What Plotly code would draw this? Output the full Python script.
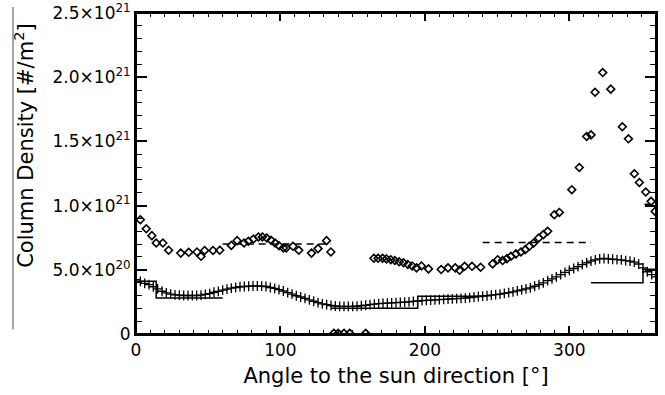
import plotly.graph_objects as go

SCALE = 1e20

# '+' series (angle in deg, column density in units of 1e20 #/m^2)
cross_x = list(range(0, 361, 3))
cross_v = [4.24, 4.10, 3.95, 3.85, 3.68, 3.52, 3.33, 3.20, 3.10, 3.05,
           3.02, 3.00, 3.00, 3.00, 3.00, 3.02, 3.08, 3.15, 3.25, 3.32,
           3.42, 3.50, 3.58, 3.62, 3.68, 3.70, 3.72, 3.74, 3.74, 3.73,
           3.70, 3.62, 3.55, 3.45, 3.35, 3.22, 3.10, 2.98, 2.88, 2.78,
           2.65, 2.55, 2.45, 2.35, 2.28, 2.22, 2.18, 2.15, 2.15, 2.15,
           2.15, 2.16, 2.20, 2.24, 2.28, 2.32, 2.36, 2.38, 2.40, 2.42,
           2.44, 2.46, 2.48, 2.50, 2.54, 2.57, 2.60, 2.62, 2.64, 2.66,
           2.68, 2.70, 2.72, 2.73, 2.75, 2.78, 2.80, 2.84, 2.88, 2.92,
           2.95, 2.98, 3.02, 3.06, 3.10, 3.16, 3.22, 3.28, 3.36, 3.44,
           3.52, 3.60, 3.72, 3.84, 3.98, 4.15, 4.30, 4.45, 4.62, 4.80,
           4.95, 5.10, 5.25, 5.40, 5.55, 5.68, 5.78, 5.85, 5.88, 5.85,
           5.82, 5.80, 5.78, 5.72, 5.68, 5.60, 5.45, 5.15, 4.85, 4.62,
           4.45]

# diamond series
diam_x = [3, 7.1, 11, 14, 18.6, 22.6, 31, 36.5, 42.2, 45, 47.5, 53.3, 58,
          66, 70, 74.8, 77.8, 81.3, 84.8, 87.5, 90.5, 93.5, 96.3, 99, 102,
          104, 108.7, 112.7, 121.5, 126, 131.9, 134.9,
          137, 140, 144, 148, 159,
          164.7, 167.6, 170.7, 173.4, 176.4, 179.2, 182.2, 185.2, 188.2,
          191.2, 194.2, 197.6, 202.5, 211.3, 216, 221, 224, 227.5, 232.6,
          238.6, 246.9, 250.4, 253.8, 256.8, 259.6, 263, 266.5, 269.5,
          272.3, 275.3, 278.8, 282, 285, 289.6, 293.1, 301.7, 306.9, 312,
          315, 317.8, 323.1, 328.7, 336.7, 340.9, 345, 348.5, 352.9, 356.6,
          359.4]
diam_v = [8.9, 8.2, 7.66, 7.09, 7.09, 6.52, 6.3, 6.36, 6.39, 6.05, 6.5, 6.5, 6.52,
          6.9, 7.27, 7.09, 7.22, 7.40, 7.56, 7.56, 7.48, 7.30, 7.09, 6.88, 6.70,
          6.70, 6.83, 6.52, 6.30, 6.65, 7.27, 6.39,
          0.05, 0.05, 0.05, 0.05, 0.05,
          5.9, 5.9, 5.9, 5.85, 5.79, 5.72, 5.62, 5.55, 5.42,
          5.30, 5.15, 5.30, 5.07, 5.02, 5.15, 5.15, 4.96, 5.27, 5.27,
          5.20, 5.46, 5.79, 5.72, 5.87, 6.05, 6.24, 6.39, 6.57,
          6.83, 7.09, 7.48, 7.74, 8.0, 9.29, 9.47, 11.24, 12.97, 15.38,
          15.51, 18.83, 20.36, 19.07, 16.14, 15.2, 12.48, 11.8, 11.06, 10.33,
          9.55]

# interval means (step lines)
solid_edges = [[0, 14, 60], [135, 195, 240], [315, 351, 360]]
solid_vals = [[4.10, 2.81], [2.00, 2.94], [4.00, 5.05]]
dash_edges = [[60, 135], [240, 315], [352, 360]]
dash_vals = [[7.00], [7.12], [10.1]]

y_tickvals = [0, 5.0, 10.0, 15.0, 20.0, 25.0]
y_ticktext = ["0", "5.0×10<sup>20</sup>", "1.0×10<sup>21</sup>",
              "1.5×10<sup>21</sup>", "2.0×10<sup>21</sup>", "2.5×10<sup>21</sup>"]
x_tickvals = [0, 100, 200, 300]
x_ticktext = ["0", "100", "200", "300"]


def step_xy(edges_list, vals_list):
    xs, ys = [], []
    for edges, vals in zip(edges_list, vals_list):
        xs.extend(edges)
        ys.extend([v * SCALE for v in vals] + [vals[-1] * SCALE])
        xs.append(None)
        ys.append(None)
    return xs, ys


fig = go.Figure()

sx, sy = step_xy(solid_edges, solid_vals)
fig.add_trace(go.Scatter(x=sx, y=sy, mode="lines", line_shape="hv",
                         line=dict(color="black", width=1.5), showlegend=False))
dx, dy = step_xy(dash_edges, dash_vals)
fig.add_trace(go.Scatter(x=dx, y=dy, mode="lines", line_shape="hv",
                         line=dict(color="black", width=1.5, dash="7px,5px"),
                         showlegend=False))

fig.add_trace(go.Scatter(x=cross_x, y=[v * SCALE for v in cross_v], mode="markers",
                         marker=dict(symbol="cross-thin-open", size=7, color="black",
                                     line=dict(color="black", width=1.3)),
                         showlegend=False))
fig.add_trace(go.Scatter(x=diam_x, y=[v * SCALE for v in diam_v], mode="markers",
                         marker=dict(symbol="diamond-open", size=6, color="black",
                                     line=dict(color="black", width=1.6)),
                         showlegend=False))

font = dict(family="DejaVu Sans", size=17, color="black")

W, H = 665, 395
L, R, T, B = 136, 9, 13, 60.5
PW, PH = W - L - R, H - T - B

x_common = dict(range=[0, 360], tickvals=x_tickvals, automargin=False,
                ticks="inside", ticklen=8, tickwidth=1.5, tickcolor="black",
                showline=True, linecolor="black", linewidth=2,
                showgrid=False, zeroline=False,
                minor=dict(dtick=10, tick0=0, ticks="inside", ticklen=4,
                           tickwidth=1.2, tickcolor="black", showgrid=False))

fig.update_layout(
    width=W, height=H,
    margin=dict(l=L, r=R, t=T, b=B),
    paper_bgcolor="white", plot_bgcolor="white",
    font=font,
    hovermode=False,
    xaxis=dict(**x_common, ticktext=x_ticktext,
               title=dict(text="Angle to the sun direction [°]",
                          font=dict(family="DejaVu Sans", size=21), standoff=9)),
    xaxis2=dict(**x_common, overlaying="x", side="top", matches="x",
                showticklabels=False),
    yaxis=dict(range=[0, 2.5e21], tickvals=[v * SCALE for v in y_tickvals],
               ticktext=y_ticktext, automargin=False,
               ticks="inside", ticklen=11, tickwidth=1.5, tickcolor="black",
               showline=True, linecolor="black", linewidth=2, mirror="ticks",
               showgrid=False, zeroline=False,
               minor=dict(dtick=1e20, tick0=0, ticks="inside", ticklen=6,
                          tickwidth=1.2, tickcolor="black", showgrid=False)),
)
# invisible trace so the top axis is drawn
fig.add_trace(go.Scatter(x=[None], y=[None], xaxis="x2", yaxis="y",
                         showlegend=False))

# frame round the plot area
fig.add_shape(type="rect", xref="paper", yref="paper", x0=0, x1=1, y0=0, y1=1,
              line=dict(color="black", width=2), layer="above")

fig.add_annotation(text="Column Density [#/m<sup>2</sup>]", textangle=-90,
                   xref="paper", yref="paper",
                   x=(24 - L) / PW, y=(H - B - 146) / PH,
                   xanchor="center", yanchor="middle", showarrow=False,
                   font=dict(family="DejaVu Sans", size=21, color="black"))
fig.add_shape(type="line", xref="paper", yref="paper",
              x0=(13 - L) / PW, x1=(13 - L) / PW,
              y0=(H - B - 7) / PH, y1=(H - B - 330) / PH,
              line=dict(color="#888888", width=1.5))

fig.write_html("out.html", config={"displayModeBar": False},
               post_script="document.body.style.margin='0';"
                           "document.body.style.overflow='hidden';")
